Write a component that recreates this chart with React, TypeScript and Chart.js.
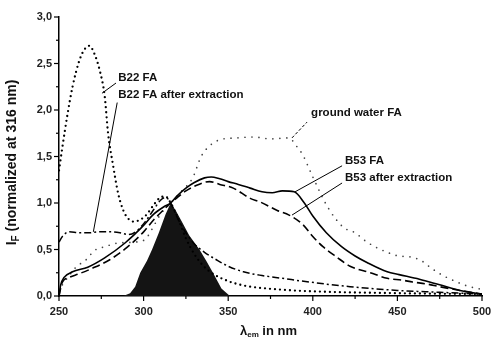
import React, { useEffect, useRef } from "react";
import { Chart, registerables } from "chart.js";

Chart.register(...registerables);

// ---- data (wavelength in nm, intensity normalized at 316 nm) ----
const b22faX = [250, 252, 255, 258, 262, 265, 268, 271, 274, 277, 279, 282, 285, 288, 291, 294, 298, 302, 306, 310, 313, 316, 320, 325, 330, 335, 340, 350, 360, 380, 400, 450, 500];
const b22faY = [1.35, 1.6, 1.95, 2.25, 2.53, 2.65, 2.69, 2.6, 2.43, 2.15, 1.75, 1.4, 1.1, 0.92, 0.83, 0.8, 0.82, 0.88, 0.98, 1.06, 1.07, 1.0, 0.85, 0.62, 0.45, 0.33, 0.25, 0.16, 0.11, 0.07, 0.05, 0.03, 0.02];

const b22afterX = [250, 252, 256, 262, 268, 274, 280, 286, 291, 296, 301, 306, 310, 313, 316, 320, 325, 330, 336, 343, 350, 359, 370, 382, 398, 422, 450, 475, 500];
const b22afterY = [0.58, 0.64, 0.69, 0.68, 0.68, 0.69, 0.69, 0.68, 0.66, 0.7, 0.8, 0.93, 1.03, 1.06, 1.0, 0.84, 0.68, 0.56, 0.47, 0.39, 0.32, 0.26, 0.22, 0.19, 0.15, 0.1, 0.06, 0.04, 0.02];

const groundX = [252, 256, 260, 266, 271, 277, 285, 295, 301, 305, 310, 316, 322, 329, 334, 340, 345, 355, 365, 375, 386, 390, 394, 400, 409, 418, 425, 432, 444, 451, 458, 465, 470, 477, 484, 491, 500];
const groundY = [0.12, 0.22, 0.31, 0.39, 0.49, 0.53, 0.57, 0.58, 0.61, 0.72, 0.88, 1.0, 1.12, 1.27, 1.5, 1.63, 1.68, 1.7, 1.71, 1.69, 1.7, 1.62, 1.52, 1.28, 0.95, 0.74, 0.68, 0.58, 0.47, 0.43, 0.42, 0.37, 0.3, 0.22, 0.16, 0.11, 0.07];

const b53faX = [250, 251, 253, 258, 267, 277, 289, 299, 306, 312, 316, 320, 325, 330, 336, 340, 345, 350, 356, 363, 370, 376, 382, 389, 395, 400, 408, 417, 425, 432, 444, 451, 463, 475, 487, 500];
const b53faY = [0.0, 0.12, 0.2, 0.26, 0.31, 0.41, 0.57, 0.74, 0.88, 0.96, 1.0, 1.08, 1.16, 1.22, 1.27, 1.28, 1.26, 1.23, 1.2, 1.16, 1.12, 1.11, 1.13, 1.12, 1.0, 0.86, 0.68, 0.53, 0.43, 0.36, 0.26, 0.23, 0.18, 0.12, 0.06, 0.02];

const b53afterX = [250, 252, 256, 262, 270, 280, 290, 300, 306, 312, 316, 320, 325, 330, 339, 345, 353, 363, 369, 379, 386, 394, 400, 406, 414, 422, 434, 444, 453, 459, 467, 475, 487, 500];
const b53afterY = [0.0, 0.15, 0.2, 0.24, 0.3, 0.39, 0.52, 0.69, 0.82, 0.93, 1.0, 1.06, 1.13, 1.18, 1.23, 1.2, 1.16, 1.05, 1.01, 0.92, 0.87, 0.77, 0.64, 0.53, 0.42, 0.32, 0.25, 0.19, 0.17, 0.15, 0.13, 0.1, 0.06, 0.02];

const peakX = [288, 292, 295, 298, 302, 305, 309, 313, 316, 319, 322, 327, 333, 337, 341, 346, 351];
const peakY = [0, 0.03, 0.1, 0.25, 0.38, 0.5, 0.68, 0.88, 1.0, 0.92, 0.82, 0.65, 0.5, 0.38, 0.25, 0.08, 0];

const xMajorTicks = [250, 300, 350, 400, 450, 500];
const yMajorTicks = [0, 0.5, 1.0, 1.5, 2.0, 2.5, 3.0];

// labels: [textX, textY, leaderFromX, leaderFromY, leaderToX, leaderToY]
const labelTexts = ["B22 FA", "B22 FA after extraction", "ground water FA", "B53 FA", "B53 after extraction"];
const labelPos = [
  [285, 2.35, 275.4, 2.18, 283.7, 2.29],
  [285, 2.16, 270.3, 0.69, 284.4, 2.08],
  [399, 1.97, 387.7, 1.7, 396.6, 1.87],
  [419, 1.45, 389.5, 1.12, 417.3, 1.4],
  [419, 1.27, 387.7, 0.87, 417.3, 1.215],
];

const FONT = "'Liberation Sans', Arial, sans-serif";

const pts = (xs: number[], ys: number[]) => xs.map((x, i) => ({ x, y: ys[i] }));

const decorPlugin = {
  id: "decor",
  afterDraw(chart: any) {
    const ctx = chart.ctx;
    const xs = chart.scales.x;
    const ys = chart.scales.y;
    const area = chart.chartArea;
    ctx.save();
    ctx.strokeStyle = "#000";
    ctx.lineWidth = 1.2;
    for (let i = 0; i < yMajorTicks.length; i++) {
      const v = yMajorTicks[i];
      const py = ys.getPixelForValue(v);
      ctx.beginPath();
      ctx.moveTo(area.left - 5, py);
      ctx.lineTo(area.left, py);
      ctx.stroke();
      if (i < yMajorTicks.length - 1) {
        const m = ys.getPixelForValue((v + yMajorTicks[i + 1]) / 2);
        ctx.beginPath();
        ctx.moveTo(area.left - 3, m);
        ctx.lineTo(area.left, m);
        ctx.stroke();
      }
    }
    for (let i = 0; i < xMajorTicks.length; i++) {
      const v = xMajorTicks[i];
      const px = xs.getPixelForValue(v);
      ctx.beginPath();
      ctx.moveTo(px, area.bottom);
      ctx.lineTo(px, area.bottom + 5);
      ctx.stroke();
      if (i < xMajorTicks.length - 1) {
        const m = xs.getPixelForValue((v + xMajorTicks[i + 1]) / 2);
        ctx.beginPath();
        ctx.moveTo(m, area.bottom);
        ctx.lineTo(m, area.bottom + 3);
        ctx.stroke();
      }
    }
    // annotation labels and leaders
    ctx.fillStyle = "#111";
    ctx.font = `bold 11.5px ${FONT}`;
    ctx.textBaseline = "middle";
    ctx.textAlign = "left";
    labelTexts.forEach((t, i) => {
      const [tx, ty, fx, fy, lx, ly] = labelPos[i];
      ctx.beginPath();
      ctx.lineWidth = 1;
      ctx.setLineDash(i === 2 ? [3, 2] : []);
      ctx.moveTo(xs.getPixelForValue(fx), ys.getPixelForValue(fy));
      ctx.lineTo(xs.getPixelForValue(lx), ys.getPixelForValue(ly));
      ctx.stroke();
      ctx.setLineDash([]);
      ctx.fillText(t, xs.getPixelForValue(tx), ys.getPixelForValue(ty));
    });
    // y axis title: I_F (normalized at 316 nm)
    const cy = (area.top + area.bottom) / 2 + 6;
    ctx.save();
    ctx.translate(12, cy);
    ctx.rotate(-Math.PI / 2);
    const big = `bold 14px ${FONT}`;
    const small = `bold 10px ${FONT}`;
    ctx.font = big;
    const wI = ctx.measureText("I").width;
    const rest = " (normalized at 316 nm)";
    const wR = ctx.measureText(rest).width;
    ctx.font = small;
    const wF = ctx.measureText("F").width;
    const x0 = -(wI + wF + wR) / 2;
    ctx.textAlign = "left";
    ctx.font = big;
    ctx.fillText("I", x0, 0);
    ctx.font = small;
    ctx.fillText("F", x0 + wI, 4);
    ctx.font = big;
    ctx.fillText(rest, x0 + wI + wF, 0);
    ctx.restore();
    // x axis title: λem in nm
    const bigX = `bold 13px ${FONT}`;
    ctx.font = bigX;
    const wL = ctx.measureText("λ").width;
    const rest2 = " in nm";
    const wR2 = ctx.measureText(rest2).width;
    ctx.font = `bold 8px ${FONT}`;
    const wE = ctx.measureText("em").width;
    const cx = (area.left + area.right) / 2 - 2;
    const xx = cx - (wL + wE + wR2) / 2;
    const ty = area.bottom + 35;
    ctx.font = bigX;
    ctx.fillText("λ", xx, ty);
    ctx.font = `bold 8px ${FONT}`;
    ctx.fillText("em", xx + wL, ty + 4);
    ctx.font = bigX;
    ctx.fillText(rest2, xx + wL + wE, ty);
    ctx.restore();
  },
};

export default function App() {
  const ref = useRef<HTMLCanvasElement>(null);
  useEffect(() => {
    if (!ref.current) return;
    const line = (data: any, extra: any) => ({
      data,
      pointRadius: 0,
      fill: false,
      cubicInterpolationMode: "monotone",
      borderColor: "#000",
      ...extra,
    });
    const chart = new Chart(ref.current, {
      type: "line",
      data: {
        datasets: [
          line(pts(b53faX, b53faY), { label: "B53 FA", borderWidth: 1.6 }),
          line(pts(b53afterX, b53afterY), { label: "B53 after extraction", borderWidth: 1.6, borderDash: [8, 4] }),
          line(pts(b22faX, b22faY), { label: "B22 FA", borderWidth: 2.3, borderDash: [0, 5], borderCapStyle: "round" }),
          line(pts(b22afterX, b22afterY), { label: "B22 FA after extraction", borderWidth: 1.5, borderDash: [7, 3, 2, 3] }),
          line(pts(groundX, groundY), { label: "ground water FA", borderWidth: 1.7, borderDash: [0, 7], borderCapStyle: "round", borderColor: "#444" }),
          {
            label: "excitation",
            data: pts(peakX, peakY),
            pointRadius: 0,
            borderWidth: 0,
            borderColor: "#111",
            backgroundColor: "#141414",
            fill: "origin",
            tension: 0,
          },
        ],
      },
      options: {
        responsive: false,
        animation: false,
        layout: { padding: { top: 17, right: 10, left: 0, bottom: 0 } },
        plugins: { legend: { display: false }, tooltip: { enabled: false } },
        scales: {
          x: {
            type: "linear",
            min: 250,
            max: 500,
            afterFit: (s: any) => { s.height = 45; s.paddingLeft = 0; s.paddingRight = 0; },
            afterBuildTicks: (s: any) => { s.ticks = xMajorTicks.map((v) => ({ value: v })); },
            grid: { display: false, drawTicks: false },
            border: { display: true, color: "#000", width: 1.5 },
            ticks: { color: "#222", padding: 9, maxRotation: 0, font: { family: FONT, size: 11, weight: "bold" } },
          },
          y: {
            type: "linear",
            min: 0,
            max: 3,
            afterFit: (s: any) => { s.width = 59; s.paddingTop = 0; s.paddingBottom = 0; },
            afterBuildTicks: (s: any) => { s.ticks = yMajorTicks.map((v) => ({ value: v })); },
            grid: { display: false, drawTicks: false },
            border: { display: true, color: "#000", width: 1.5 },
            ticks: {
              color: "#222",
              padding: 7,
              font: { family: FONT, size: 11, weight: "bold" },
              callback: (v: any) => Number(v).toFixed(1).replace(".", ","),
            },
          },
        },
      },
      plugins: [decorPlugin],
    } as any);
    return () => chart.destroy();
  }, []);
  return (
    <div style={{ position: "fixed", left: 0, top: 0, width: 492, height: 341, background: "#fff" }}>
      <canvas ref={ref} width={492} height={341} />
    </div>
  );
}
